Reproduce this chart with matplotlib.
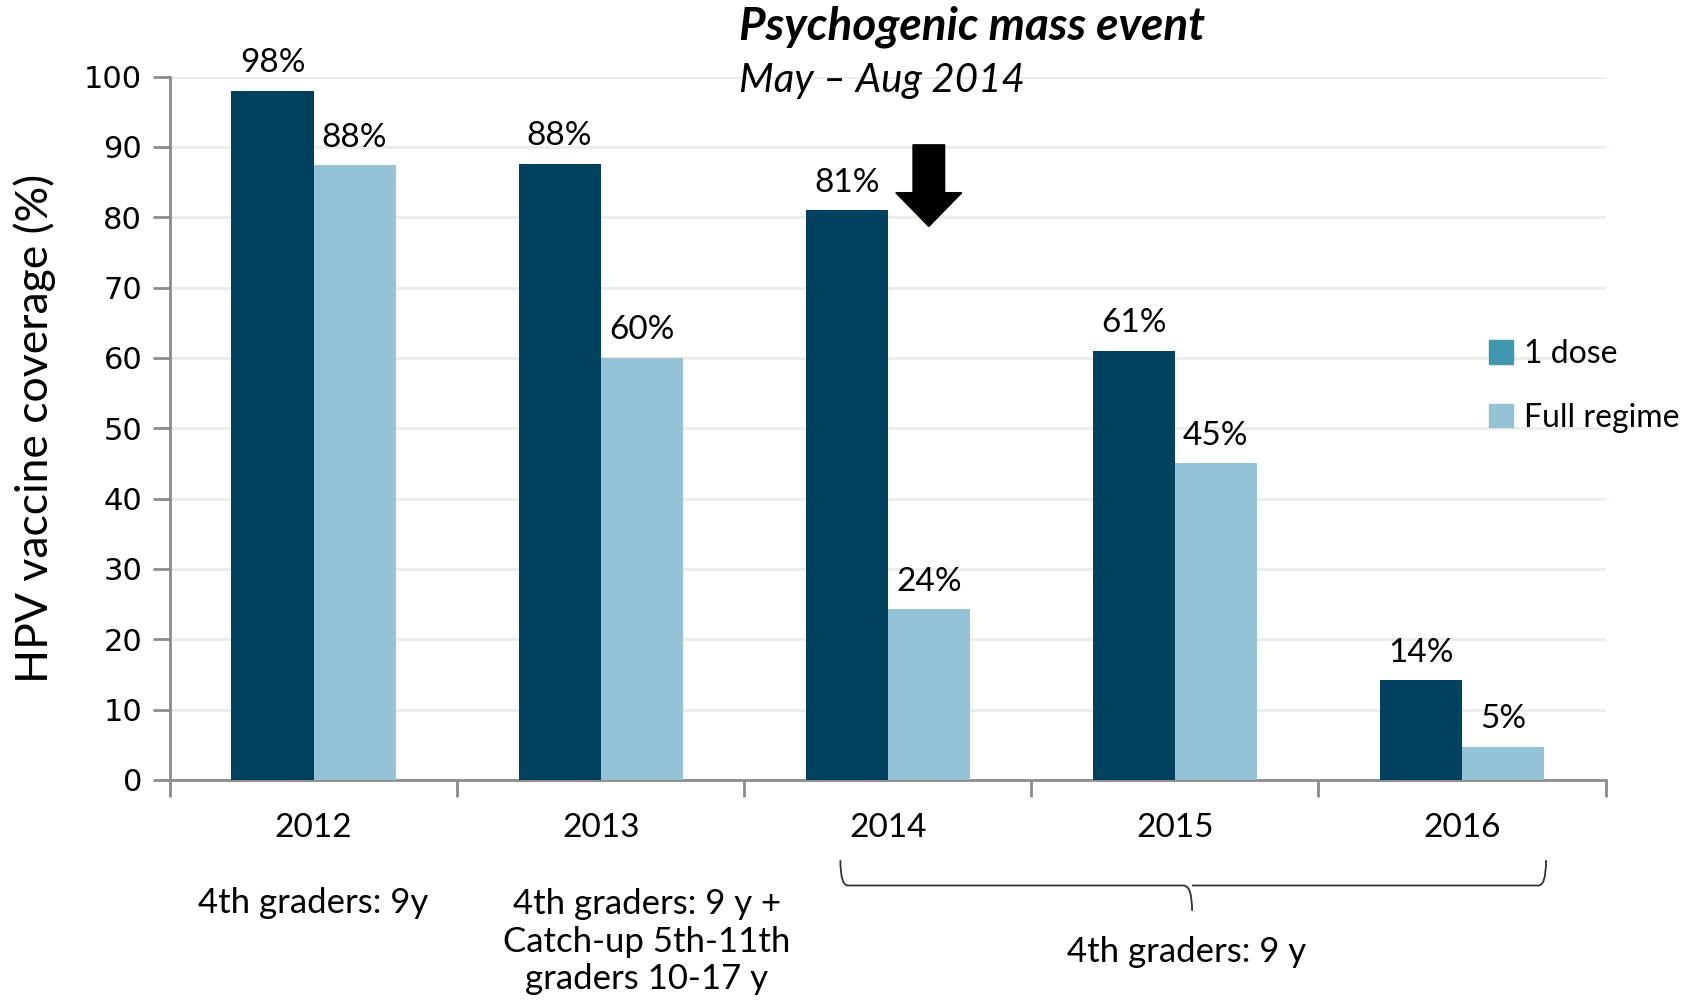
import matplotlib.pyplot as plt
import numpy as np
from matplotlib.patches import FancyArrow, PathPatch, Patch
from matplotlib.path import Path

# data
years = ["2012", "2013", "2014", "2015", "2016"]
one_dose = [98, 87.6, 81, 61, 14.2]
full_regime = [87.4, 60, 24.3, 45, 4.7]
one_dose_labels = ["98%", "88%", "81%", "61%", "14%"]
full_labels = ["88%", "60%", "24%", "45%", "5%"]
cohort_2012 = "4th graders: 9y"
cohort_2013 = "4th graders: 9 y +\nCatch-up 5th-11th\ngraders 10-17 y"
cohort_later = "4th graders: 9 y"

DARK = "#00415f"
LIGHT = "#93c3d5"
LEGEND_DARK = "#3f97ae"
GRID = "#eeede3"
AXIS = "#8c8c8c"
FONT = ["Lato", "DejaVu Sans"]

plt.rcParams['font.family'] = FONT

fig = plt.figure(figsize=(16.9, 10.08), dpi=100)
ax = fig.add_axes([0.1006, 0.2262, 0.8494, 0.6978])

x = np.arange(len(years))
w = 0.286
ax.bar(x - w / 2, one_dose, w, color=DARK, zorder=3)
ax.bar(x + w / 2, full_regime, w, color=LIGHT, zorder=3)

for xi, v, lab in zip(x - w / 2, one_dose, one_dose_labels):
    ax.annotate(lab, (xi, v), xytext=(0, 9), textcoords="offset points",
                ha="center", va="bottom", fontsize=24)
for xi, v, lab in zip(x + w / 2, full_regime, full_labels):
    ax.annotate(lab, (xi, v), xytext=(0, 9), textcoords="offset points",
                ha="center", va="bottom", fontsize=24)

ax.set_xlim(-0.5, 4.5)
ax.set_ylim(0, 100)
ax.set_yticks(np.arange(0, 101, 10))
ax.set_yticklabels([str(t) for t in range(0, 101, 10)], family="DejaVu Sans", fontsize=22)
ax.yaxis.grid(True, color=GRID, linewidth=2, zorder=0)
ax.set_axisbelow(True)

# group boundary ticks, year labels as minor ticks
ax.set_xticks(np.arange(-0.5, 4.6, 1))
ax.set_xticklabels([])
ax.set_xticks(x, minor=True)
ax.set_xticklabels(years, minor=True, fontsize=24)
ax.tick_params(axis="x", which="major", length=12, width=2, color=AXIS, direction="out")
ax.tick_params(axis="x", which="minor", length=0, pad=24)
ax.tick_params(axis="y", length=12, width=2, color=AXIS, pad=8)

for s in ["top", "right"]:
    ax.spines[s].set_visible(False)
for s in ["left", "bottom"]:
    ax.spines[s].set_color(AXIS)
    ax.spines[s].set_linewidth(2)

ax.set_ylabel("HPV vaccine coverage (%)", fontsize=32, labelpad=20)

# cohort notes under the years
ax.text(0, -17.5, cohort_2012, ha="center", va="center", fontsize=25, clip_on=False)
ax.text(1.16, -23.0, cohort_2013, ha="center", va="center", fontsize=25,
        linespacing=1.22, clip_on=False)
ax.text(3.04, -24.4, cohort_later, ha="center", va="center", fontsize=25, clip_on=False)

# curly bracket spanning 2014-2016
x0, x1, xm = 1.835, 4.293, 3.06
yt, yb, ym = -11.4, -15.0, -18.6
r = 0.03
verts = [(x0, yt), (x0, yb - 0.2), (x0 + r, yb),
         (xm - r, yb), (xm, yb), (xm, ym),
         (xm, yb), (xm + r, yb),
         (x1 - r, yb), (x1, yb - 0.2), (x1, yt)]
codes = [Path.MOVETO, Path.CURVE3, Path.CURVE3,
         Path.LINETO, Path.CURVE3, Path.CURVE3,
         Path.MOVETO, Path.LINETO,
         Path.LINETO, Path.CURVE3, Path.CURVE3]
ax.add_patch(PathPatch(Path(verts, codes), fill=False, edgecolor="#333333",
                       linewidth=1.3, clip_on=False))

# arrow marking the event
ax.add_patch(FancyArrow(2.143, 90.3, 0, -11.6, width=0.11, head_width=0.23,
                        head_length=4.8, length_includes_head=True,
                        color="black", zorder=4, clip_on=False))

fig.text(0.437, 0.973, "Psychogenic mass event", fontsize=33, fontweight="bold",
         style="italic", ha="left", va="center")
fig.text(0.437, 0.92, "May \u2013 Aug 2014", fontsize=29, style="italic",
         ha="left", va="center")

handles = [Patch(color=LEGEND_DARK, label="1 dose"), Patch(color=LIGHT, label="Full regime")]
fig.legend(handles=handles, loc="center left", bbox_to_anchor=(0.881, 0.617),
           frameon=False, fontsize=23, handlelength=0.75, handleheight=0.75,
           handletextpad=0.35, labelspacing=1.05, borderaxespad=0, borderpad=0)

fig.savefig("out.png", dpi=100)
